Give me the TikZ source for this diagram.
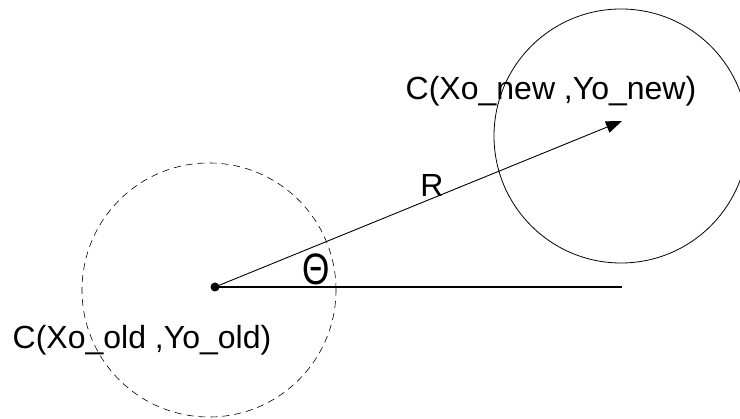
\documentclass[tikz,border=0pt]{standalone}
\usepackage{fontspec}
\setmainfont{Liberation Sans}
\usetikzlibrary{arrows.meta}
\begin{document}
\begin{tikzpicture}[x=1pt,y=-1pt,
  lbl/.style={font=\fontsize{32}{36}\selectfont, inner sep=0pt},
  thetalbl/.style={font=\fontsize{44}{48}\selectfont, inner sep=0pt},
  oldcircle/.style={circle, draw, dashed, dash pattern=on 7pt off 5pt, line width=0.6pt, inner sep=0pt, minimum size=254pt},
  newcircle/.style={circle, draw, line width=0.8pt, inner sep=0pt, minimum size=254pt},
  centre/.style={circle, fill=black, inner sep=0pt, minimum size=9pt}]
\useasboundingbox (0,0) rectangle (740,419);
\node[oldcircle] (oldc) at (209,290) {};
\node[newcircle] (newc) at (621,136) {};
\node[centre] (o) at (215,287) {};
\coordinate (tip) at (622,121);
\coordinate (hend) at (622,287);
\draw[line width=1.1pt] (o.center) -- (hend);
\draw[line width=0.9pt, -{Triangle[length=16pt,width=12pt]}] (o.center) -- (tip);
\node[lbl] (newlbl) at (551,91) {C(Xo\_new ,Yo\_new)};
\node[lbl] (oldlbl) at (142,340) {C(Xo\_old ,Yo\_old)};
\node[lbl] (rlbl) at (432,185) {R};
\node[thetalbl] (theta) at (316,269) {\scalebox{0.8}[1]{Θ}};
\end{tikzpicture}
\end{document}
